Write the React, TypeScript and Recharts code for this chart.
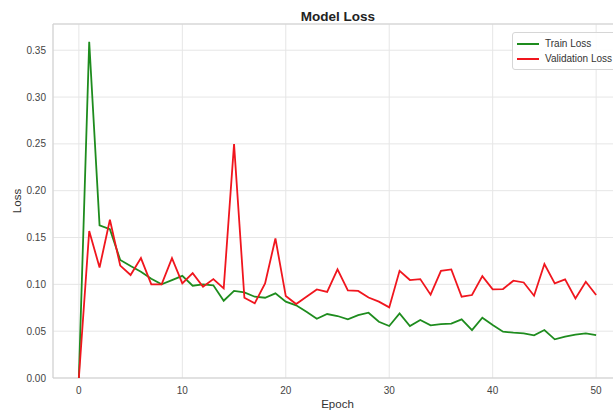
import { CartesianGrid, Label, Line, LineChart, ReferenceArea, XAxis, YAxis } from 'recharts'

// values
const epochs = [0, 1, 2, 3, 4, 5, 6, 7, 8, 9, 10, 11, 12, 13, 14, 15, 16, 17, 18, 19, 20, 21, 22, 23, 24, 25, 26, 27, 28, 29, 30, 31, 32, 33, 34, 35, 36, 37, 38, 39, 40, 41, 42, 43, 44, 45, 46, 47, 48, 49, 50]
const trainLoss = [0, 0.359, 0.163, 0.159, 0.126, 0.1195, 0.1135, 0.106, 0.1, 0.1045, 0.109, 0.0985, 0.1, 0.099, 0.0825, 0.093, 0.0915, 0.0868, 0.0857, 0.0904, 0.0815, 0.0776, 0.0708, 0.0633, 0.0683, 0.0662, 0.0626, 0.0672, 0.0697, 0.0601, 0.0555, 0.069, 0.0555, 0.0619, 0.0562, 0.0576, 0.058, 0.0626, 0.0512, 0.0644, 0.0566, 0.0494, 0.0484, 0.0477, 0.0455, 0.0512, 0.0413, 0.0441, 0.0462, 0.0477, 0.0459]
const valLoss = [0, 0.157, 0.118, 0.169, 0.12, 0.11, 0.128, 0.1, 0.1, 0.128, 0.101, 0.112, 0.0975, 0.1056, 0.0957, 0.2497, 0.0857, 0.0797, 0.101, 0.149, 0.0875, 0.079, 0.0868, 0.0946, 0.092, 0.116, 0.0935, 0.093, 0.086, 0.0815, 0.0754, 0.1145, 0.1046, 0.1056, 0.089, 0.1145, 0.116, 0.0868, 0.0886, 0.1088, 0.0946, 0.095, 0.1039, 0.102, 0.0879, 0.1217, 0.101, 0.1053, 0.085, 0.1028, 0.0886]
const xTicks = [0, 10, 20, 30, 40, 50]
const yTicks = [0, 0.05, 0.1, 0.15, 0.2, 0.25, 0.3, 0.35]

const FONT = '"Liberation Sans", Arial, sans-serif'
const GREEN = '#1e8c1e'
const RED = '#f0161e'

const data = epochs.map((e, i) => ({ epoch: e, train: trainLoss[i], val: valLoss[i] }))

const LegendBox = () => (
    <div
        style={{
            position: 'absolute',
            top: 32,
            left: 512,
            border: '1px solid #d6d6d6',
            borderRadius: 3,
            background: 'rgba(255,255,255,0.85)',
            padding: '3px 0 3px 4px',
            width: 120,
            fontFamily: FONT,
            fontSize: 10,
            color: '#333',
            lineHeight: '15px',
        }}
    >
        {[
            { name: 'Train Loss', color: GREEN },
            { name: 'Validation Loss', color: RED },
        ].map((item) => (
            <div key={item.name} style={{ display: 'flex', alignItems: 'center' }}>
                <span style={{ display: 'inline-block', width: 22, height: 2, background: item.color, marginRight: 6 }} />
                <span>{item.name}</span>
            </div>
        ))}
    </div>
)

export default function App() {
    return (
        <div style={{ position: 'fixed', left: 0, top: 0, width: 613, height: 411, overflow: 'hidden', background: '#fff' }}>
            <div
                style={{
                    position: 'absolute',
                    top: 9,
                    left: 0,
                    width: 676,
                    textAlign: 'center',
                    fontFamily: FONT,
                    fontWeight: 'bold',
                    fontSize: 13.5,
                    color: '#222',
                }}
            >
                Model Loss
            </div>
            <LineChart width={640} height={411} data={data} margin={{ top: 24, right: 18, bottom: 0, left: 0 }}>
                <CartesianGrid stroke="#e6e6e6" strokeWidth={1} />
                <ReferenceArea x1={-2.5} x2={52.5} y1={0} y2={0.378} fill="none" stroke="#cfcfcf" ifOverflow="extendDomain" />
                <XAxis
                    dataKey="epoch"
                    type="number"
                    domain={[-2.5, 52.5]}
                    ticks={xTicks}
                    allowDataOverflow
                    height={33}
                    tickLine={false}
                    axisLine={false}
                    tickSize={0}
                    tickMargin={9}
                    tick={{ fill: '#444', fontSize: 10, fontFamily: FONT }}
                >
                    <Label
                        content={({ viewBox }: any) => (
                            <text
                                x={viewBox.x + viewBox.width / 2}
                                y={viewBox.y + 30}
                                textAnchor="middle"
                                fill="#333"
                                fontSize={11.5}
                                fontFamily={FONT}
                            >
                                Epoch
                            </text>
                        )}
                    />
                </XAxis>
                <YAxis
                    type="number"
                    domain={[0, 0.378]}
                    ticks={yTicks}
                    allowDataOverflow
                    width={53}
                    tickLine={false}
                    axisLine={false}
                    tickSize={0}
                    tickMargin={7}
                    tickFormatter={(v: number) => v.toFixed(2)}
                    tick={{ fill: '#444', fontSize: 10, fontFamily: FONT }}
                >
                    <Label
                        content={({ viewBox }: any) => (
                            <text
                                x={0}
                                y={0}
                                transform={`translate(21, ${viewBox.y + viewBox.height / 2}) rotate(-90)`}
                                textAnchor="middle"
                                fill="#333"
                                fontSize={11.5}
                                fontFamily={FONT}
                            >
                                Loss
                            </text>
                        )}
                    />
                </YAxis>
                <Line
                    type="linear"
                    dataKey="train"
                    name="Train Loss"
                    stroke={GREEN}
                    strokeWidth={1.8}
                    dot={false}
                    isAnimationActive={false}
                />
                <Line
                    type="linear"
                    dataKey="val"
                    name="Validation Loss"
                    stroke={RED}
                    strokeWidth={1.8}
                    dot={false}
                    isAnimationActive={false}
                />
            </LineChart>
            <LegendBox />
        </div>
    )
}
